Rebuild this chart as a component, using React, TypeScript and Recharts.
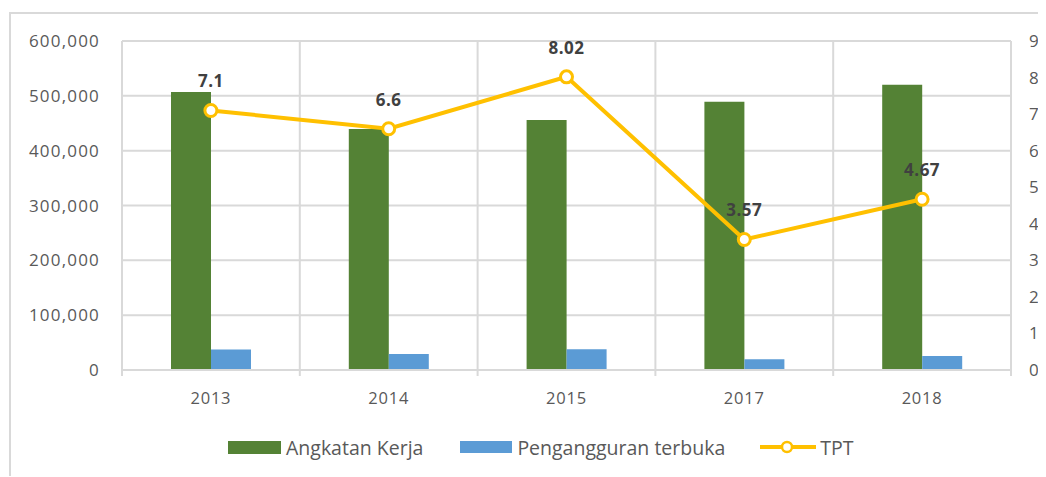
import React from 'react';
import {
  ComposedChart,
  Bar,
  Line,
  XAxis,
  YAxis,
  CartesianGrid,
  Legend,
  LabelList,
} from 'recharts';

const years = ['2013', '2014', '2015', '2017', '2018'];
const angkatanKerja = [507000, 439500, 456000, 489000, 520000];
const pengangguran = [37500, 29000, 37700, 19500, 25500];
const tpt = [7.1, 6.6, 8.02, 3.57, 4.67];
const leftTicks = [0, 100000, 200000, 300000, 400000, 500000, 600000];
const rightTicks = [0, 1, 2, 3, 4, 5, 6, 7, 8, 9];

const data = years.map((y, i) => ({
  year: y,
  ak: angkatanKerja[i],
  pt: pengangguran[i],
  tpt: tpt[i],
}));

const FONT = '"Open Sans", sans-serif';
const GRID = '#d9d9d9';
const TEXT = '#595959';
const GREEN = '#548235';
const BLUE = '#5b9bd5';
const YELLOW = '#ffc000';

const XTick = (props: any) => {
  const { x, y, payload, width, index } = props;
  const bw = width / years.length;
  return (
    <g>
      <line x1={x - bw / 2} x2={x - bw / 2} y1={y} y2={y + 6} stroke={GRID} strokeWidth={2} />
      {index === years.length - 1 && (
        <line x1={x + bw / 2} x2={x + bw / 2} y1={y} y2={y + 6} stroke={GRID} strokeWidth={2} />
      )}
      <text x={x} y={y + 34} textAnchor="middle" fill={TEXT} fontSize={16.5} fontFamily={FONT} letterSpacing={0.8}>
        {payload.value}
      </text>
    </g>
  );
};

const LegendContent = () => (
  <div
    style={{
      height: 57,
      display: 'flex',
      alignItems: 'center',
      paddingLeft: 220,
      paddingBottom: 3,
      boxSizing: 'border-box',
      fontFamily: FONT,
      fontSize: 19.5,
      color: TEXT,
    }}
  >
    <span style={{ display: 'inline-block', width: 53, height: 13, background: GREEN, marginRight: 5 }} />
    <span style={{ marginRight: 37 }}>Angkatan Kerja</span>
    <span style={{ display: 'inline-block', width: 52, height: 12, background: BLUE, marginRight: 5 }} />
    <span style={{ marginRight: 35 }}>Pengangguran terbuka</span>
    <svg width={56} height={14} style={{ marginRight: 4 }}>
      <line x1={0} x2={56} y1={7} y2={7} stroke={YELLOW} strokeWidth={4} />
      <circle cx={27} cy={7} r={5} fill="#fff" stroke={YELLOW} strokeWidth={2.5} />
    </svg>
    <span>TPT</span>
  </div>
);

export default function App() {
  return (
    <div style={{ position: 'relative', width: 1038, height: 469 }}>
      <div
        style={{
          position: 'absolute',
          left: 1,
          top: 4,
          width: 1037,
          height: 464,
          borderTop: `2px solid ${GRID}`,
          borderLeft: `2px solid ${GRID}`,
          boxSizing: 'border-box',
        }}
      />
      <div style={{ position: 'absolute', left: 0, top: 0 }}>
        <ComposedChart
          width={1038}
          height={469}
          data={data}
          margin={{ top: 33, right: 0, bottom: 0, left: 0 }}
          barGap={0}
          barSize={40}
        >
          <CartesianGrid
            stroke={GRID}
            strokeWidth={2}
            yAxisId="left"
            verticalCoordinatesGenerator={({ offset }: any) =>
              Array.from({ length: years.length + 1 }, (_, i) => offset.left + (i * offset.width) / years.length)
            }
          />
          <XAxis
            dataKey="year"
            height={50}
            tickSize={0}
            tickMargin={0}
            tickLine={false}
            axisLine={{ stroke: GRID, strokeWidth: 2 }}
            tick={<XTick />}
            interval={0}
          />
          <YAxis
            yAxisId="left"
            width={114}
            domain={[0, 600000]}
            ticks={leftTicks}
            tickFormatter={(v: number) => v.toLocaleString('en-US')}
            axisLine={false}
            tickLine={false}
            tickSize={0}
            tickMargin={22}
            tick={{ fill: TEXT, fontSize: 17, fontFamily: FONT, letterSpacing: 1.2 }}
          />
          <YAxis
            yAxisId="right"
            orientation="right"
            width={35}
            domain={[0, 9]}
            ticks={rightTicks}
            axisLine={false}
            tickLine={false}
            tickSize={0}
            tickMargin={18}
            tick={{ fill: TEXT, fontSize: 17, fontFamily: FONT }}
          />
          <Legend verticalAlign="bottom" content={<LegendContent />} />
          <Bar yAxisId="left" dataKey="ak" name="Angkatan Kerja" fill={GREEN} isAnimationActive={false} />
          <Bar yAxisId="left" dataKey="pt" name="Pengangguran terbuka" fill={BLUE} isAnimationActive={false} />
          <Line
            yAxisId="right"
            dataKey="tpt"
            name="TPT"
            stroke={YELLOW}
            strokeWidth={4}
            dot={{ r: 6, fill: '#fff', stroke: YELLOW, strokeWidth: 3 }}
            activeDot={false}
            isAnimationActive={false}
          >
            <LabelList
              dataKey="tpt"
              position="top"
              offset={23}
              fill="#404040"
              fontSize={17}
              fontWeight="bold"
              fontFamily={FONT}
              letterSpacing={0.5}
            />
          </Line>
        </ComposedChart>
      </div>
    </div>
  );
}
